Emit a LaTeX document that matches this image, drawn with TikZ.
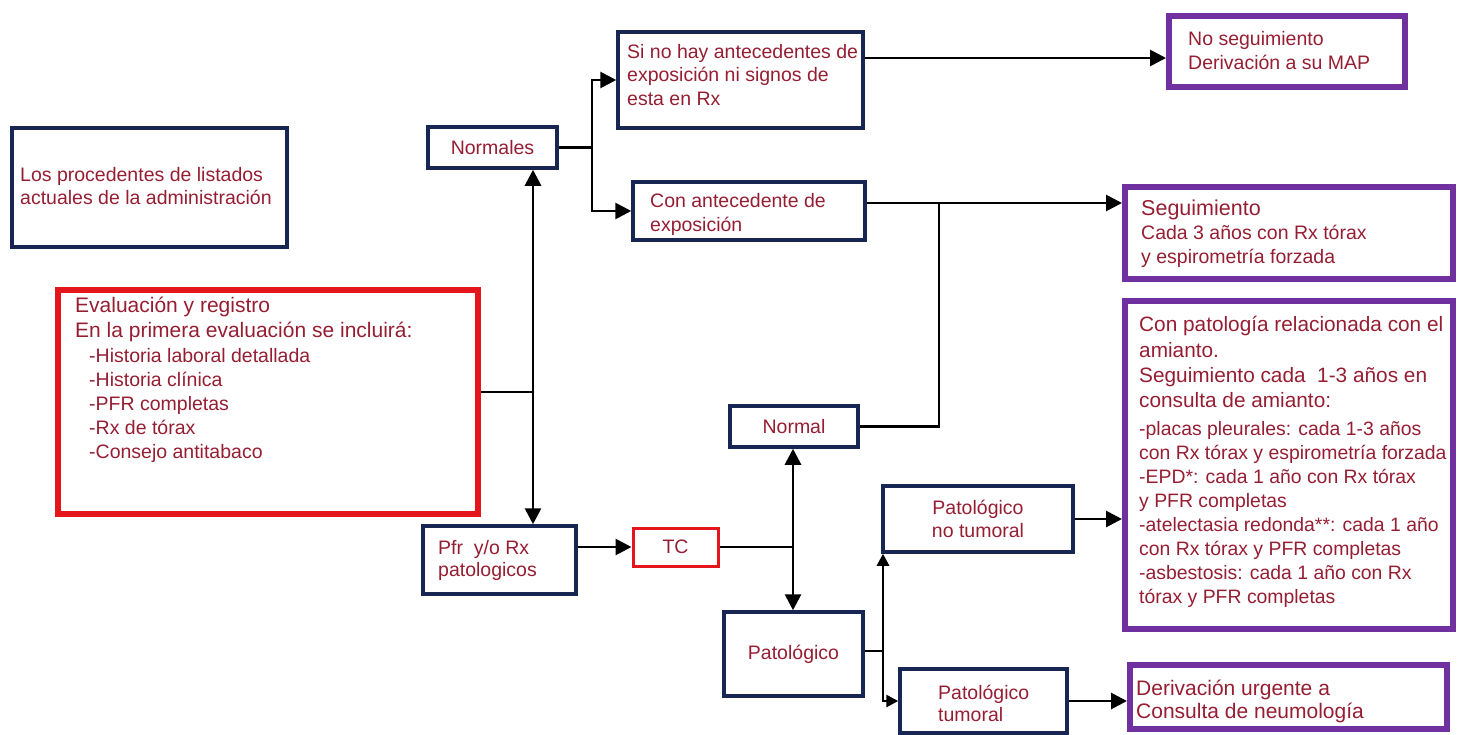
\documentclass[tikz,border=0pt]{standalone}
\usepackage{fontspec}
\setmainfont{Liberation Sans}
\usetikzlibrary{arrows.meta}
\definecolor{navy}{RGB}{24,38,84}
\definecolor{purp}{RGB}{112,48,160}
\definecolor{redb}{RGB}{228,22,28}
\definecolor{txt}{RGB}{150,30,50}
\begin{document}
\begin{tikzpicture}[x=1pt,y=-1pt,
  conn/.style={line width=2.8pt, draw=black},
  arr/.style={conn, -{Triangle[length=16pt,width=16pt]}},
  sarr/.style={conn, -{Triangle[length=12pt,width=12pt]}},
  dbl/.style={conn, {Triangle[length=16pt,width=16pt]}-{Triangle[length=16pt,width=16pt]}},
  nbox/.style={draw=navy, line width=3.5pt, rectangle, inner sep=0pt, text=txt, fill=white,
    font=\fontsize{19.5}{23.5}\selectfont},
  pbox/.style={draw=purp, line width=6pt, rectangle, inner sep=0pt, fill=white},
  rbox/.style={draw=redb, line width=6pt, rectangle, inner sep=0pt, fill=white},
  tcbox/.style={draw=redb, line width=3pt, rectangle, inner sep=0pt, text=txt, fill=white,
    font=\fontsize{19.5}{23.5}\selectfont},
  tx/.style={inner sep=0pt, anchor=north west, align=left, text=txt},
]
\useasboundingbox[fill=white] (0,0) rectangle (1459,734);

% boxes
\node[nbox, minimum width=275pt, minimum height=119pt] (proc) at (149.5,187.5) {};
\node[nbox, minimum width=129pt, minimum height=41pt] (normales) at (492.5,147.5) {Normales};
\node[nbox, minimum width=245pt, minimum height=96pt] (sinohay) at (740.5,80) {};
\node[nbox, minimum width=232pt, minimum height=58pt] (conante) at (749,211) {};
\node[pbox, minimum width=236pt, minimum height=71pt] (noseg) at (1287,51.5) {};
\node[pbox, minimum width=328pt, minimum height=92pt] (seg) at (1289,233) {};
\node[pbox, minimum width=328pt, minimum height=328pt] (conpat) at (1289,465) {};
\node[pbox, minimum width=317pt, minimum height=64pt] (deriv) at (1288.5,697) {};
\node[rbox, minimum width=420pt, minimum height=224pt] (red) at (268,402) {};
\node[nbox, minimum width=153pt, minimum height=68pt] (pfr) at (499.5,560) {};
\node[tcbox, minimum width=85pt, minimum height=38pt] (tc) at (675.5,547) {TC};
\node[nbox, minimum width=128pt, minimum height=41pt] (normal) at (794,426.5) {Normal};
\node[nbox, minimum width=139pt, minimum height=84pt] (patol) at (793.5,654) {Patológico};
\node[nbox, minimum width=190pt, minimum height=66pt, align=center] (notum) at (978,519) {Patológico\\no tumoral};
\node[nbox, minimum width=167pt, minimum height=64pt] (tum) at (983.5,701) {};

% texts
\node[tx, font=\fontsize{19.5}{23.5}\selectfont] (tproc) at (20,164.5)
  {\strut Los procedentes de listados\\actuales de la administración};
\node[tx, font=\fontsize{19.5}{23.5}\selectfont] (tsinohay) at (627,41.5)
  {\strut Si no hay antecedentes de\\exposición ni signos de\\esta en Rx};
\node[tx, font=\fontsize{19.5}{24}\selectfont] (tconante) at (650,190.2)
  {\strut Con antecedente de\\exposición};
\node[tx, font=\fontsize{19.5}{24}\selectfont] (tnoseg) at (1188,28.2)
  {\strut No seguimiento\\Derivación a su MAP};
\node[tx, font=\fontsize{19.5}{23.75}\selectfont] (tseg) at (1141,198.9)
  {\strut{\fontsize{21.5}{23.75}\selectfont Seguimiento}\\Cada 3 años con Rx tórax\\y espirometría forzada};
\node[tx, font=\fontsize{21}{25}\selectfont] (tredA) at (75,295)
  {\strut Evaluación y registro\\En la primera evaluación se incluirá:};
\node[tx, font=\fontsize{19.5}{24}\selectfont] (tredB) at (89,345.2)
  {\strut -Historia laboral detallada\\-Historia clínica\\-PFR completas\\-Rx de tórax\\-Consejo antitabaco};
\node[tx, font=\fontsize{19.5}{22}\selectfont] (tpfr) at (438,538.6)
  {\strut Pfr\ \ y/o Rx\\patologicos};
\node[tx, font=\fontsize{19.5}{22}\selectfont] (ttum) at (938,683.6)
  {\strut Patológico\\tumoral};
\node[tx, font=\fontsize{20.8}{25.3}\selectfont] (tconpatA) at (1139,313.8)
  {\strut Con patología relacionada con el\\amianto.\\Seguimiento cada\ \ 1-3 años en\\consulta de amianto:};
\node[tx, font=\fontsize{19.4}{24}\selectfont] (tconpatB) at (1139,418.2)
  {\strut -placas pleurales: cada 1-3 años\\con Rx tórax y espirometría forzada\\-EPD*: cada 1 año con Rx tórax\\y PFR completas\\-atelectasia redonda**: cada 1 año\\con Rx tórax y PFR completas\\-asbestosis: cada 1 año con Rx\\tórax y PFR completas};
\node[tx, font=\fontsize{21}{23}\selectfont] (tderiv) at (1136,679.4)
  {\strut Derivación urgente a\\Consulta de neumología};

% junction coordinates
\coordinate (jn) at (592,148);
\coordinate (jns) at (0,58);
\coordinate (jseg) at (939,203);
\coordinate (jr) at (533,392);
\coordinate (jt) at (793,547);
\coordinate (jp) at (883,651);

% connectors
\draw[arr] (normales.east) -- (jn |- normales.east) |- (sinohay.west);
\draw[arr] (jn |- normales.east) |- (conante.west);
\draw[arr] (sinohay.east |- jns) -- (noseg.west |- jns);
\draw[arr] (conante.east |- jseg) -- (seg.west |- jseg);
\draw[conn] (normal.east) -| (jseg);
\draw[conn] (red.east |- jr) -- (jr);
\draw[dbl] (jr |- normales.south) -- (jr |- pfr.north);
\draw[arr] (pfr.east |- tc.west) -- (tc.west);
\draw[conn] (tc.east) -- (jt);
\draw[dbl] (jt |- normal.south) -- (jt |- patol.north);
\draw[conn] (patol.east |- jp) -- (jp);
\draw[sarr] (jp) -- (jp |- notum.south);
\draw[sarr] (jp) |- (tum.west);
\draw[arr] (notum.east) -- (conpat.west |- notum.east);
\draw[arr] (tum.east) -- (deriv.west |- tum.east);
\end{tikzpicture}
\end{document}
